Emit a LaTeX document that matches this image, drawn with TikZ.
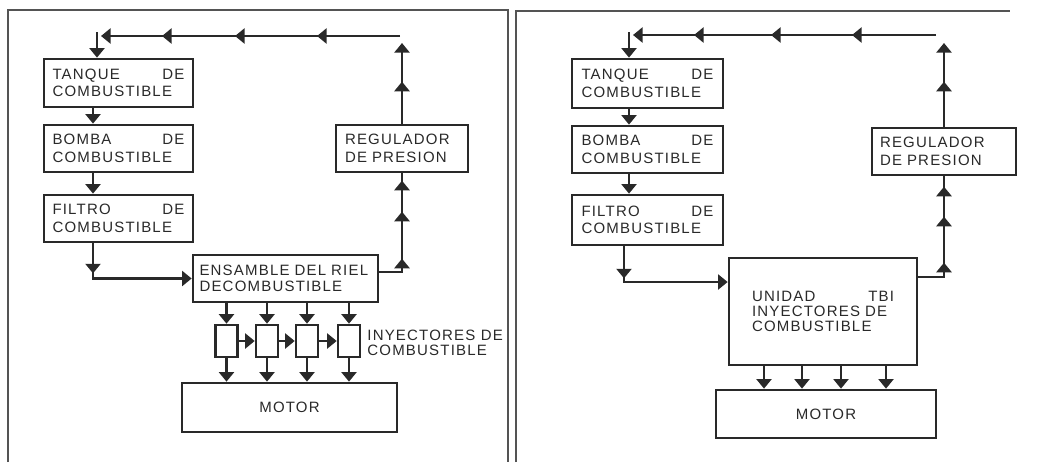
\documentclass[tikz,border=0pt]{standalone}
\usepackage{fontspec}
\usetikzlibrary{arrows.meta,decorations.markings}
\newfontfamily\lab[LetterSpace=8]{Liberation Sans}
\definecolor{ink}{gray}{0.16}
\tikzset{
  >={Triangle[width=7.5pt,length=4.8pt]},
  box/.style={draw=ink, line width=1.35pt, inner sep=0pt, text=ink,
    font={\lab\fontsize{7.5}{8.8}\selectfont}},
  inj/.style={draw=ink, line width=1.3pt, inner sep=0pt, minimum width=11pt, minimum height=16pt},
  lbl/.style={inner sep=0pt, text=ink, font={\lab\fontsize{7.5}{7.8}\selectfont}},
  flow/.style={draw=ink, line width=1.4pt},
  frame/.style={draw=ink!80, line width=1pt},
  mid/.style={postaction={decorate,decoration={markings,mark=at position #1 with {\arrow{>}}}}}
}
\begin{document}
\begin{tikzpicture}[x=0.5pt,y=-0.5pt]
\useasboundingbox (0,0) rectangle (1039,462);
% frames
\draw[frame] (8,462) -- (8,10) -- (508,10) -- (508,462);
\draw[frame] (516,462) -- (516,11) -- (1010,11);

% ================= LEFT PANEL =================
\node[box, minimum width=74.5pt, minimum height=24pt, text width=66pt, align=left] (tankL) at (118.5,83) {TANQUE\hfill DE\\COMBUSTIBLE};
\node[box, minimum width=74.5pt, minimum height=23.5pt, text width=66pt, align=left] (pumpL) at (118.5,148.5) {BOMBA\hfill DE\\COMBUSTIBLE};
\node[box, minimum width=74.5pt, minimum height=23.5pt, text width=66pt, align=left] (filtL) at (118.5,218.5) {FILTRO\hfill DE\\COMBUSTIBLE};
\node[box, minimum width=66pt, minimum height=23.5pt, text width=57pt, align=left] (regL) at (402,148.5) {REGULADOR\\DE PRESION};
\node[box, minimum width=92.5pt, minimum height=23.5pt, text width=86pt, align=left, font={\lab\fontsize{7.5}{8}\selectfont}] (railL) at (285.5,278.5) {ENSAMBLE DEL RIEL\\DECOMBUSTIBLE};
\node[inj] (i1) at (226.5,341) {};
\node[inj] (i2) at (267,341) {};
\node[inj] (i3) at (307,341) {};
\node[inj] (i4) at (349,341) {};
\node[lbl, anchor=west, align=left] (injlab) at (367,343) {INYECTORES DE\\COMBUSTIBLE};
\node[box, minimum width=107.5pt, minimum height=24.5pt] (motL) at (289.5,407.5) {MOTOR};

\coordinate (ltopA) at (400,36);
\coordinate (ltopB) at (101,36);
\coordinate (ldown) at (97,32);
\coordinate (lx) at (93,0);
\coordinate (lup) at (402,43);
\coordinate (lcor) at (402,272);

\draw[flow,->,mid=41.5pt,mid=82.5pt,mid=119pt] (ltopA) -- (ltopB);
\draw[flow,->] (ldown) -- (ldown |- tankL.north);
\draw[flow,->] (tankL.south -| lx) -- (pumpL.north -| lx);
\draw[flow,->] (pumpL.south -| lx) -- (filtL.north -| lx);
\draw[flow,->,mid=15pt] (filtL.south -| lx) -- (lx |- railL.west) -- (railL.west);
\draw[flow,mid=18pt,mid=41.5pt,mid=57pt] (railL.east |- lcor) -- (lcor) -- (regL.south);
\draw[flow,->,mid=21pt] (regL.north) -- (lup);
\foreach \k in {1,2,3,4}{
  \draw[flow,->] (i\k |- railL.south) -- (i\k.north);
  \draw[flow,->] (i\k.south) -- (i\k |- motL.north);
}
\draw[flow,->] (i1.east) -- (i2.west);
\draw[flow,->] (i2.east) -- (i3.west);
\draw[flow,->] (i3.east) -- (i4.west);

% ================= RIGHT PANEL =================
\node[box, minimum width=75.5pt, minimum height=24.5pt, text width=66pt, align=left] (tankR) at (647.5,83.5) {TANQUE\hfill DE\\COMBUSTIBLE};
\node[box, minimum width=75.5pt, minimum height=23.5pt, text width=66pt, align=left] (pumpR) at (647.5,149.5) {BOMBA\hfill DE\\COMBUSTIBLE};
\node[box, minimum width=75.5pt, minimum height=25pt, text width=66pt, align=left] (filtR) at (647.5,220) {FILTRO\hfill DE\\COMBUSTIBLE};
\node[box, minimum width=72pt, minimum height=23.5pt, text width=64pt, align=left] (regR) at (944,151.5) {REGULADOR\\DE PRESION};
\node[box, minimum width=94pt, minimum height=53.5pt, text width=71pt, align=left, font={\lab\fontsize{7.5}{7.6}\selectfont}] (tbi) at (823,311.5) {UNIDAD\hfill TBI\\INYECTORES DE\\COMBUSTIBLE\\[2pt]};
\node[box, minimum width=110pt, minimum height=24pt] (motR) at (826,414) {MOTOR};

\coordinate (rtopA) at (936,35);
\coordinate (rtopB) at (633,35);
\coordinate (rdown) at (629,32);
\coordinate (rx) at (629,0);
\coordinate (rfx) at (624,0);
\coordinate (rcorA) at (624,282);
\coordinate (rup) at (944,43);
\coordinate (rcor) at (944,277);
\coordinate (b1) at (764,0);
\coordinate (b2) at (802,0);
\coordinate (b3) at (841,0);
\coordinate (b4) at (886,0);

\draw[flow,->,mid=42pt,mid=82.5pt,mid=121pt] (rtopA) -- (rtopB);
\draw[flow,->] (rdown) -- (rdown |- tankR.north);
\draw[flow,->] (tankR.south -| rx) -- (pumpR.north -| rx);
\draw[flow,->] (pumpR.south -| rx) -- (filtR.north -| rx);
\draw[flow,->,mid=16pt] (filtR.south -| rfx) -- (rcorA) -- (tbi.west |- rcorA);
\draw[flow,mid=20pt,mid=43pt,mid=58pt] (tbi.east |- rcor) -- (rcor) -- (regR.south);
\draw[flow,->,mid=22.5pt] (regR.north) -- (rup);
\foreach \k in {1,2,3,4}{
  \draw[flow,->] (b\k |- tbi.south) -- (b\k |- motR.north);
}
\end{tikzpicture}
\end{document}
